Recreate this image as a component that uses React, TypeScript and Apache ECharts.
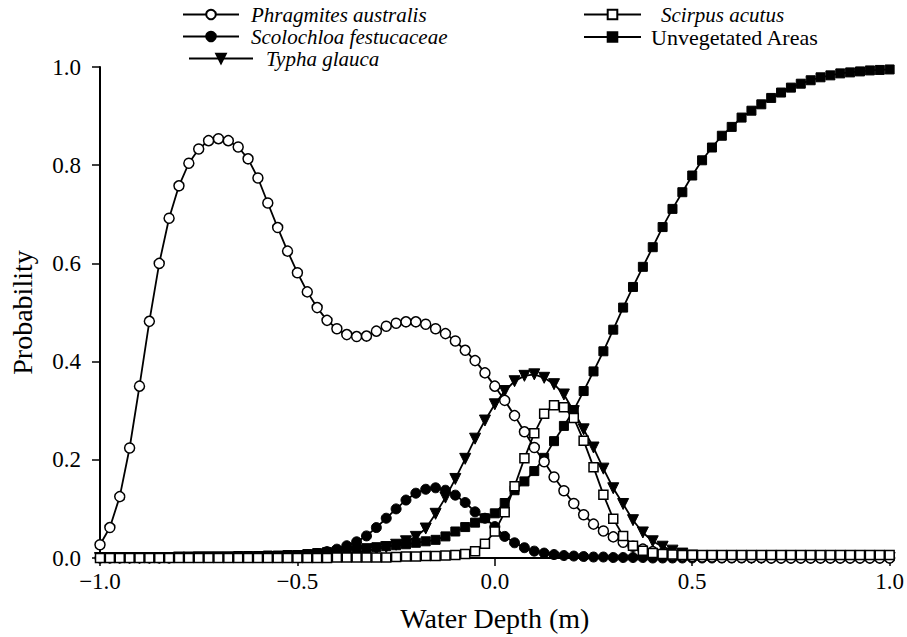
import React, { useEffect, useRef } from "react";
import * as echarts from "echarts";

const depth = [
  -1.0, -0.975, -0.95, -0.925, -0.9, -0.875, -0.85, -0.825, -0.8, -0.775,
  -0.75, -0.725, -0.7, -0.675, -0.65, -0.625, -0.6, -0.575, -0.55, -0.525,
  -0.5, -0.475, -0.45, -0.425, -0.4, -0.375, -0.35, -0.325, -0.3, -0.275,
  -0.25, -0.225, -0.2, -0.175, -0.15, -0.125, -0.1, -0.075, -0.05, -0.025,
  0.0, 0.025, 0.05, 0.075, 0.1, 0.125, 0.15, 0.175, 0.2, 0.225,
  0.25, 0.275, 0.3, 0.325, 0.35, 0.375, 0.4, 0.425, 0.45, 0.475,
  0.5, 0.525, 0.55, 0.575, 0.6, 0.625, 0.65, 0.675, 0.7, 0.725,
  0.75, 0.775, 0.8, 0.825, 0.85, 0.875, 0.9, 0.925, 0.95, 0.975,
  1.0,
];

const phragmites = [
  0.027, 0.062, 0.125, 0.224, 0.35, 0.482, 0.6, 0.692, 0.758, 0.804,
  0.833, 0.85, 0.854, 0.85, 0.837, 0.813, 0.774, 0.723, 0.673, 0.625,
  0.581, 0.542, 0.51, 0.484, 0.467, 0.455, 0.451, 0.452, 0.462, 0.472,
  0.478, 0.481, 0.481, 0.476, 0.467, 0.457, 0.442, 0.423, 0.402, 0.377,
  0.35, 0.321, 0.29, 0.257, 0.225, 0.196, 0.165, 0.137, 0.111, 0.088,
  0.069, 0.055, 0.043, 0.032, 0.024, 0.018, 0.013, 0.009, 0.006, 0.004,
  0.003, 0.002, 0.002, 0.001, 0.001, 0.001, 0.001, 0.001, 0.0, 0.0,
  0.0, 0.0, 0.0, 0.0, 0.0, 0.0, 0.0, 0.0, 0.0, 0.0,
  0.0,
];

const scolochloa = [
  0.0, 0.0, 0.0, 0.0, 0.0, 0.0, 0.0, 0.0, 0.001, 0.001,
  0.001, 0.001, 0.001, 0.001, 0.001, 0.002, 0.002, 0.002, 0.003, 0.004,
  0.005, 0.006, 0.009, 0.013, 0.018, 0.025, 0.033, 0.045, 0.062, 0.081,
  0.1, 0.118, 0.132, 0.14, 0.143, 0.138, 0.128, 0.113, 0.094, 0.081,
  0.064, 0.044, 0.031, 0.021, 0.014, 0.01, 0.007, 0.005, 0.004, 0.003,
  0.002, 0.002, 0.001, 0.001, 0.001, 0.001, 0.0, 0.0, 0.0, 0.0,
  0.0, 0.0, 0.0, 0.0, 0.0, 0.0, 0.0, 0.0, 0.0, 0.0,
  0.0, 0.0, 0.0, 0.0, 0.0, 0.0, 0.0, 0.0, 0.0, 0.0,
  0.0,
];

const typha = [
  0.0, 0.0, 0.0, 0.0, 0.0, 0.0, 0.0, 0.0, 0.001, 0.001,
  0.001, 0.001, 0.001, 0.001, 0.001, 0.001, 0.001, 0.002, 0.002, 0.003,
  0.003, 0.004, 0.005, 0.006, 0.008, 0.01, 0.012, 0.015, 0.018, 0.022,
  0.027, 0.034, 0.043, 0.06, 0.09, 0.123, 0.161, 0.202, 0.243, 0.28,
  0.313, 0.34, 0.36, 0.371, 0.374, 0.367, 0.354, 0.333, 0.299, 0.262,
  0.225, 0.182, 0.142, 0.11, 0.077, 0.052, 0.034, 0.023, 0.015, 0.009,
  0.005, 0.003, 0.002, 0.001, 0.001, 0.001, 0.0, 0.0, 0.0, 0.0,
  0.0, 0.0, 0.0, 0.0, 0.0, 0.0, 0.0, 0.0, 0.0, 0.0,
  0.0,
];

const scirpus = [
  0.0, 0.0, 0.0, 0.0, 0.0, 0.0, 0.0, 0.0, 0.0, 0.0,
  0.0, 0.0, 0.0, 0.0, 0.0, 0.0, 0.0, 0.0, 0.0, 0.0,
  0.0, 0.0, 0.0, 0.0, 0.001, 0.001, 0.001, 0.001, 0.001, 0.001,
  0.002, 0.003, 0.003, 0.004, 0.004, 0.005, 0.006, 0.008, 0.014, 0.029,
  0.054, 0.093, 0.146, 0.203, 0.254, 0.294, 0.311, 0.307, 0.285, 0.239,
  0.185, 0.129, 0.08, 0.045, 0.025, 0.015, 0.01, 0.008, 0.007, 0.006,
  0.006, 0.006, 0.006, 0.006, 0.006, 0.006, 0.006, 0.006, 0.006, 0.006,
  0.006, 0.006, 0.006, 0.006, 0.006, 0.006, 0.006, 0.006, 0.006, 0.006,
  0.006,
];

const unvegetated = [
  0.001, 0.001, 0.001, 0.001, 0.001, 0.002, 0.002, 0.002, 0.002, 0.002,
  0.003, 0.003, 0.003, 0.003, 0.004, 0.004, 0.004, 0.005, 0.005, 0.006,
  0.006, 0.008, 0.01, 0.012, 0.014, 0.016, 0.018, 0.02, 0.022, 0.024,
  0.026, 0.028, 0.031, 0.034, 0.037, 0.044, 0.054, 0.063, 0.072, 0.081,
  0.091, 0.112, 0.138, 0.156, 0.177, 0.204, 0.238, 0.269, 0.301, 0.34,
  0.38, 0.421, 0.465, 0.51, 0.552, 0.593, 0.633, 0.674, 0.711, 0.745,
  0.779, 0.81, 0.836, 0.86, 0.878, 0.897, 0.911, 0.924, 0.937, 0.948,
  0.958, 0.966, 0.973, 0.979, 0.983, 0.987, 0.989, 0.991, 0.993, 0.994,
  0.995,
];

const names = [
  "Phragmites australis",
  "Scolochloa festucaceae",
  "Typha glauca",
  "Scirpus acutus",
  "Unvegetated Areas",
];

const xTicks = { min: -1, max: 1, interval: 0.5 };
const yTicks = { min: 0, max: 1, interval: 0.2 };

function pairs(values: number[]) {
  return depth.map((d, i) => [d, values[i]]);
}

const FONT = "Liberation Serif";

export default function App() {
  const ref = useRef<HTMLDivElement>(null);

  useEffect(() => {
    document.body.style.margin = "0";
    const chart = echarts.init(ref.current!, null, { renderer: "svg" });

    const legend = (
      name: string,
      left: number,
      top: number,
      width: number,
      pad: number,
      italic = true
    ) => ({
      data: [name],
      left,
      top,
      padding: 0,
      itemWidth: width,
      itemHeight: 12,
      selectedMode: false,
      textStyle: {
        fontFamily: FONT,
        fontSize: italic ? 21 : 22,
        lineHeight: 18,
        fontStyle: italic ? "italic" : "normal",
        color: "#000",
        padding: [0, 0, 0, pad],
      },
    });

    const base = (name: string, values: number[]) => ({
      name,
      type: "line",
      data: pairs(values),
      showSymbol: true,
      lineStyle: { color: "#000", width: 1.8 },
      emphasis: { disabled: true },
    });

    const axisLabelStyle = {
      fontFamily: FONT,
      fontSize: 23,
      color: "#000",
    };

    const option = {
      animation: false,
      backgroundColor: "#fff",
      grid: { left: 100, right: 17, top: 67, bottom: 77 },
      legend: [
        legend(names[0], 182, 4, 56, 7),
        legend(names[1], 182, 26, 56, 7),
        legend(names[2], 188, 48, 64, 8),
        legend(names[3], 583, 4, 57, 15),
        legend(names[4], 583, 26, 57, 5, false),
      ],
      xAxis: {
        type: "value",
        ...xTicks,
        name: "Water Depth (m)",
        nameLocation: "middle",
        nameGap: 46,
        nameTextStyle: { fontFamily: FONT, fontSize: 28, color: "#000" },
        axisLine: { onZero: false, lineStyle: { color: "#000", width: 2 } },
        axisTick: { show: true, inside: false, length: 8, lineStyle: { color: "#000", width: 1.5 } },
        axisLabel: {
          ...axisLabelStyle,
          margin: 12,
          formatter: (v: number) => v.toFixed(1).replace("-", "\u2212"),
        },
        splitLine: { show: false },
      },
      yAxis: {
        type: "value",
        ...yTicks,
        name: "Probability",
        nameLocation: "middle",
        nameGap: 64,
        nameTextStyle: { fontFamily: FONT, fontSize: 28, color: "#000" },
        axisLine: { show: true, onZero: false, lineStyle: { color: "#000", width: 2 } },
        axisTick: { show: true, inside: false, length: 8, lineStyle: { color: "#000", width: 1.5 } },
        axisLabel: {
          ...axisLabelStyle,
          margin: 19,
          formatter: (v: number) => v.toFixed(1),
        },
        splitLine: { show: false },
      },
      series: [
        {
          ...base(names[4], unvegetated),
          symbol: "rect",
          symbolSize: 9,
          itemStyle: { color: "#000", borderColor: "#000", borderWidth: 1 },
        },
        {
          ...base(names[2], typha),
          symbol: "triangle",
          symbolRotate: 180,
          symbolSize: 11,
          itemStyle: { color: "#000", borderColor: "#000", borderWidth: 1 },
        },
        {
          ...base(names[1], scolochloa),
          symbol: "circle",
          symbolSize: 10,
          itemStyle: { color: "#000", borderColor: "#000", borderWidth: 1 },
        },
        {
          ...base(names[0], phragmites),
          symbol: "circle",
          symbolSize: 10,
          itemStyle: { color: "#fff", borderColor: "#000", borderWidth: 1.5 },
        },
        {
          ...base(names[3], scirpus),
          symbol: "rect",
          symbolSize: 9,
          itemStyle: { color: "#fff", borderColor: "#000", borderWidth: 1.5 },
        },
      ],
    };

    chart.setOption(option as any);
    return () => chart.dispose();
  }, []);

  return <div ref={ref} style={{ width: 907, height: 637 }} />;
}
